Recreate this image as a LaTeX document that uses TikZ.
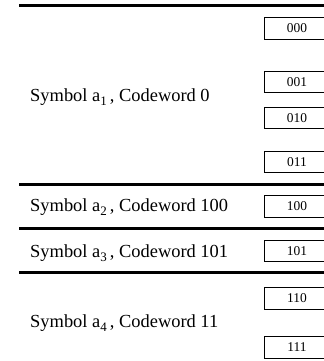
\documentclass[tikz,border=0pt]{standalone}
\usepackage{fontspec}
\setmainfont{Liberation Serif}
\newcommand{\symsub}[1]{\raisebox{-4bp}{\fontsize{13}{13}\selectfont #1}}
\begin{document}
\begin{tikzpicture}[x=1bp,y=-1bp,
  sep/.style={line width=3bp},
  codebox/.style={draw,line width=0.8bp,minimum width=66bp,minimum height=21.5bp,inner sep=0pt,font=\fontsize{13.5}{14}\selectfont},
  symlabel/.style={anchor=base west,inner sep=0pt,font=\fontsize{18.5}{20}\selectfont}]
\useasboundingbox (0,0) rectangle (324,361);
\coordinate (l1a) at (19,5);   \coordinate (l1b) at (324,5);
\coordinate (l2a) at (19,184); \coordinate (l2b) at (324,184);
\coordinate (l3a) at (19,228.5); \coordinate (l3b) at (324,228.5);
\coordinate (l4a) at (19,272.5); \coordinate (l4b) at (324,272.5);
\draw[sep] (l1a) -- (l1b);
\draw[sep] (l2a) -- (l2b);
\draw[sep] (l3a) -- (l3b);
\draw[sep] (l4a) -- (l4b);
\node[codebox] (c000) at (297,28.3) {000};
\node[codebox] (c001) at (297,81.7) {001};
\node[codebox] (c010) at (297,117.7) {010};
\node[codebox] (c011) at (297,161.7) {011};
\node[codebox] (c100) at (297,206.2) {100};
\node[codebox] (c101) at (297,251) {101};
\node[codebox] (c110) at (297,298.3) {110};
\node[codebox] (c111) at (297,347.5) {111};
\node[symlabel] (s1) at (30,101) {Symbol a\symsub{1}\,, Codeword 0};
\node[symlabel] (s2) at (30,211.5) {Symbol a\symsub{2}\,, Codeword 100};
\node[symlabel] (s3) at (30,257.3) {Symbol a\symsub{3}\,, Codeword 101};
\node[symlabel] (s4) at (30,327.3) {Symbol a\symsub{4}\,, Codeword 11};
\end{tikzpicture}
\end{document}
